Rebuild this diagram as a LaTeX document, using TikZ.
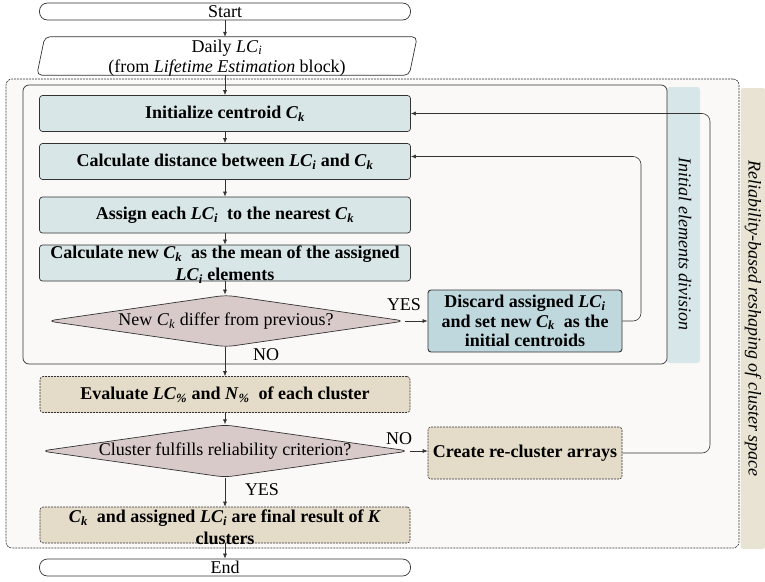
\documentclass[tikz,border=0pt]{standalone}
\usepackage{fontspec}
\setmainfont{Liberation Serif}
\usetikzlibrary{arrows.meta,calc,shapes.geometric}
\definecolor{offwhite}{HTML}{FAF9F7}
\definecolor{boxblue}{HTML}{D8E6E8}
\definecolor{discblue}{HTML}{BFD8DE}
\definecolor{decpink}{HTML}{D9CACA}
\definecolor{boxbeige}{HTML}{E4DCC8}
\definecolor{stripbeige}{HTML}{E9E3D3}
\definecolor{stripblue}{HTML}{D6E6E9}
\definecolor{edge}{HTML}{333333}
\newcommand{\vx}[2]{\textit{#1}\textsubscript{\textit{#2}}}
\begin{document}
\begin{tikzpicture}[x=1pt,y=-1pt,
  txt/.style={font=\fontsize{18}{20}\selectfont, inner sep=0pt, align=center},
  btxt/.style={font=\bfseries\fontsize{18}{20}\selectfont, inner sep=0pt, align=center},
  pill/.style={draw=edge, line width=0.7pt, rounded corners=8pt, minimum width=371pt, minimum height=17pt, inner sep=0pt, font=\fontsize{18}{20}\selectfont},
  bluebox/.style={draw=edge, line width=0.7pt, fill=boxblue, rounded corners=3pt, minimum width=371pt, minimum height=36pt, inner sep=0pt, font=\bfseries\fontsize{18}{20}\selectfont, align=center},
  discbox/.style={draw=edge, line width=0.9pt, fill=discblue, rounded corners=3pt, minimum width=194pt, minimum height=62pt, inner sep=0pt, font=\bfseries\fontsize{18}{19.5}\selectfont, align=center},
  beigebox/.style={draw=edge, line width=0.6pt, dash pattern=on 2pt off 1pt, fill=boxbeige, rounded corners=3pt, minimum width=370pt, minimum height=36pt, inner sep=0pt, font=\bfseries\fontsize{18}{20}\selectfont, align=center},
  decision/.style={diamond, draw=edge, line width=0.7pt, fill=decpink, rounded corners=8pt, inner sep=0pt, aspect=7, font=\fontsize{18}{20}\selectfont},
  arr/.style={-{Latex[length=5pt,width=4pt]}, line width=0.6pt, draw=edge},
  loop/.style={arr, rounded corners=8pt},
  lbl/.style={font=\fontsize{18}{20}\selectfont, inner sep=0pt},
  strip/.style={rounded corners=3pt, inner sep=0pt},
  striptxt/.style={font=\itshape\fontsize{18}{20}\selectfont, inner sep=0pt, rotate=-90},
]
\useasboundingbox (0,0) rectangle (765,581);

% containers
\node[draw=edge, line width=0.6pt, dash pattern=on 2pt off 1pt, fill=offwhite, rounded corners=6pt, minimum width=733pt, minimum height=469pt, inner sep=0pt] (outerbox) at (372.5,313.5) {};
\node[strip, fill=stripbeige, minimum width=25pt, minimum height=461pt] (rstrip) at (753,318.5) {};
\node[striptxt] (rtxt) at (753,318.5) {Reliability-based reshaping of cluster space};
\node[strip, fill=stripblue, minimum width=33pt, minimum height=276pt] (bstrip) at (683.5,225) {};
\node[striptxt] (btxtstrip) at (685,244) {Initial elements division};
\node[draw=edge, line width=0.7pt, rounded corners=6pt, minimum width=644pt, minimum height=279pt, inner sep=0pt] (innerbox) at (345,224.5) {};

% start and input
\node[pill] (start) at (225,11.5) {Start};
\node[minimum width=380pt, minimum height=38pt, inner sep=0pt] (daily) at (227,56) {};
\draw[draw=edge, line width=0.7pt, rounded corners=5pt] (daily.south west) -- ($(daily.north west)+(8,0)$) -- (daily.north east) -- ($(daily.south east)+(-8,0)$) -- cycle;
\node[txt] (dailytxt) at (227,58) {Daily \vx{LC}{i}\\(from \textit{Lifetime Estimation} block)};

% inner loop
\node[bluebox] (b1) at (225,113.5) {Initialize centroid \vx{C}{k}};
\node[bluebox] (b2) at (225,161.5) {Calculate distance between \vx{LC}{i} and \vx{C}{k}};
\node[bluebox] (b3) at (225,215) {Assign each \vx{LC}{i}\ \ to the nearest \vx{C}{k}};
\node[bluebox] (b4) at (225,263) {};
\node[btxt, font=\bfseries\fontsize{18}{22}\selectfont] (b4txt) at (225,265) {Calculate new \vx{C}{k}\ \ as the mean of the assigned\\\vx{LC}{i} elements};
\node[decision, minimum width=358pt, minimum height=52pt] (d1) at (226,321) {New \vx{C}{k} differ from previous?};
\node[discbox] (disc) at (525,321) {Discard assigned \vx{LC}{i}\\and set new \vx{C}{k}\ \ as the\\initial centroids};

% reliability part
\node[beigebox] (eval) at (225,394.5) {Evaluate \vx{LC}{\%} and \vx{N}{\%}\ \ of each cluster};
\node[decision, minimum width=356pt, minimum height=52pt] (d2) at (225,451) {Cluster fulfills reliability criterion?};
\node[beigebox, minimum width=194pt, minimum height=52pt] (create) at (525,453) {Create re-cluster arrays};
\node[beigebox] (final) at (225,525) {};
\node[btxt, font=\bfseries\fontsize{18}{22}\selectfont] (finaltxt) at (225,527) {\vx{C}{k}\ \ and assigned \vx{LC}{i} are final result of \textit{K}\\clusters};
\node[pill] (end) at (225,567.5) {End};

% labels
\node[lbl] (yes1) at (404,305) {YES};
\node[lbl] (no1) at (266,355) {NO};
\node[lbl] (no2) at (399,439) {NO};
\node[lbl] (yes2) at (262,490) {YES};

% loop corner points
\coordinate (c1) at (641,156.5);
\coordinate (c2) at (710,113.5);

% connectors
\draw[arr] (start.south) -- (start.south |- daily.north);
\draw[arr] (b1.north |- daily.south) -- (b1.north);
\draw[arr] (b1) -- (b2);
\draw[arr] (b2) -- (b3);
\draw[arr] (b3) -- (b4);
\draw[arr] (b4.south) -- (b4.south |- d1.north);
\draw[arr] (d1.east) -- (disc.west);
\draw[loop] (disc.east) -| (c1) -- (b2.east |- c1);
\draw[arr] (d1.south -| eval.north) -- (eval.north);
\draw[arr] (eval.south) -- (eval.south |- d2.north);
\draw[arr] (d2.east) -- (d2.east -| create.west);
\draw[loop] (create.east) -| (c2) -- (b1.east);
\draw[arr] (final.north |- d2.south) -- (final.north);
\draw[arr] (final.south) -- (end.north);
\end{tikzpicture}
\end{document}
